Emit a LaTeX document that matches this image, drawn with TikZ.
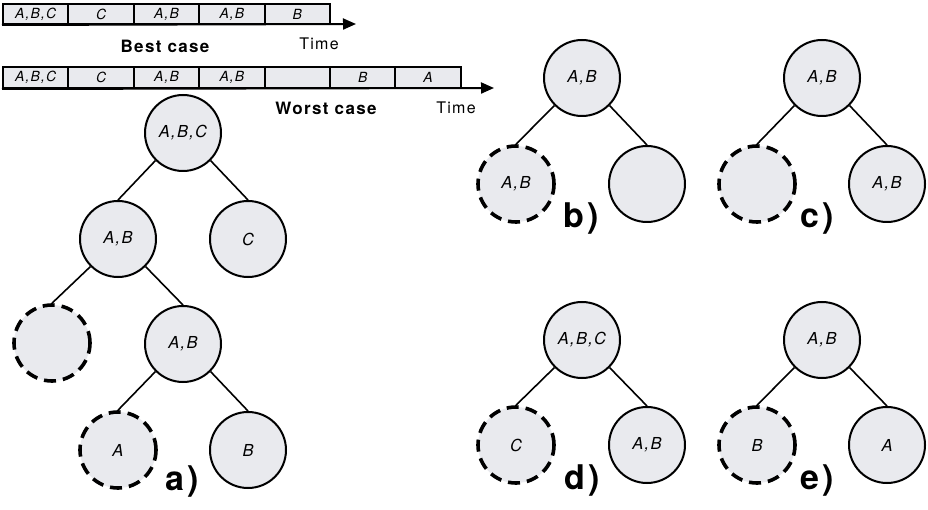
\documentclass[tikz,border=0pt]{standalone}
\usepackage{fontspec}
\setmainfont{TeX Gyre Heros}
\newfontfamily\spacedsans[LetterSpace=8]{TeX Gyre Heros}
\usetikzlibrary{arrows.meta}
\definecolor{nodefill}{RGB}{233,234,238}
\begin{document}
\begin{tikzpicture}[x=1pt,y=-1pt,
  state/.style={circle,draw,line width=2pt,fill=nodefill,minimum size=76pt,
    inner sep=0pt,font=\spacedsans\fontsize{16.5}{16.5}\selectfont\itshape},
  pruned/.style={state,dash pattern=on 12pt off 7pt,line width=3.6pt},
  edge/.style={line width=1.6pt},
  slot/.style={draw,line width=2pt,fill=nodefill,minimum width=65.4pt,
    inner sep=0pt,font=\spacedsans\fontsize{14}{14}\selectfont\itshape},
  timeaxis/.style={line width=2pt,-{Triangle[length=13pt,width=11pt]}},
  axislabel/.style={font=\spacedsans\fontsize{16}{16}\selectfont},
  caselabel/.style={font=\spacedsans\fontsize{17}{17}\selectfont\bfseries},
  caption/.style={font=\spacedsans\fontsize{34}{34}\selectfont\bfseries}
]
\useasboundingbox (0,0) rectangle (928,510);

% best-case timeline
\foreach \txt [count=\i] in {{A,B,C},C,{A,B},{A,B},B}
  \node[slot,minimum height=20pt] (b\i) at ({3+65.4*(\i-0.5)},14) {\txt};
\coordinate (bend) at (356,24);
\draw[timeaxis] (b1.south west) -- (bend);
\node[caselabel] (bestcase) at (165,46) {Best case};
\node[axislabel] (btime) at (319,44) {Time};

% worst-case timeline
\foreach \txt [count=\i] in {{A,B,C},C,{A,B},{A,B},{},B,A}
  \node[slot,minimum height=21pt] (w\i) at ({3+65.4*(\i-0.5)},77.5) {\txt};
\coordinate (wend) at (494,88);
\draw[timeaxis] (w1.south west) -- (wend);
\node[caselabel] (worstcase) at (326,108) {Worst case};
\node[axislabel] (wtime) at (456,108) {Time};

% a) full search tree
\node[state]  (ra) at (183,133) {A,B,C};
\node[state]  (a1) at (118,239) {A,B};
\node[state]  (a2) at (248,239) {C};
\node[pruned] (a3) at (52,343) {};
\node[state]  (a4) at (183,344) {A,B};
\node[pruned] (a5) at (118,450) {A};
\node[state]  (a6) at (248,450) {B};
\draw[edge] (ra.225) -- (a1.north);
\draw[edge] (ra.-45) -- (a2.north);
\draw[edge] (a1.225) -- (a3.north);
\draw[edge] (a1.-45) -- (a4.north);
\draw[edge] (a4.225) -- (a5.north);
\draw[edge] (a4.-45) -- (a6.north);
\node[caption] (capa) at (182,482) {a)};

% b)
\node[state]  (rb) at (582,78) {A,B};
\node[pruned] (b1n) at (516,184) {A,B};
\node[state]  (b2n) at (647,184) {};
\draw[edge] (rb.225) -- (b1n.north);
\draw[edge] (rb.-45) -- (b2n.north);
\node[caption] (capb) at (581,219) {b)};

% c)
\node[state]  (rc) at (822,78) {A,B};
\node[pruned] (c1) at (757,184) {};
\node[state]  (c2) at (887,184) {A,B};
\draw[edge] (rc.225) -- (c1.north);
\draw[edge] (rc.-45) -- (c2.north);
\node[caption] (capc) at (817,219) {c)};

% d)
\node[state]  (rd) at (582,340) {A,B,C};
\node[pruned] (d1) at (516,445) {C};
\node[state]  (d2) at (647,445) {A,B};
\draw[edge] (rd.225) -- (d1.north);
\draw[edge] (rd.-45) -- (d2.north);
\node[caption] (capd) at (582,481) {d)};

% e)
\node[state]  (re) at (822,340) {A,B};
\node[pruned] (e1) at (757,445) {B};
\node[state]  (e2) at (887,445) {A};
\draw[edge] (re.225) -- (e1.north);
\draw[edge] (re.-45) -- (e2.north);
\node[caption] (cape) at (817,481) {e)};
\end{tikzpicture}
\end{document}
